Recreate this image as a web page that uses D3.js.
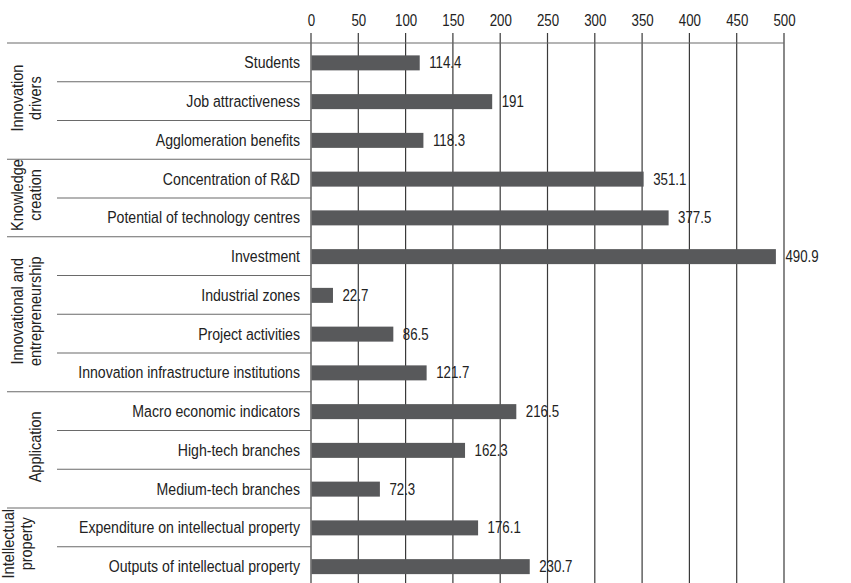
<!DOCTYPE html>
<html>
<head>
<meta charset="utf-8">
<script src="https://cdn.jsdelivr.net/npm/d3@7"></script>
<style>
  html, body { margin: 0; padding: 0; background: #fff; }
  svg { display: block; }
  text { font-family: "Liberation Sans Narrow", "Arial Narrow", "Liberation Sans", Arial, sans-serif; fill: #222; }
</style>
</head>
<body>
<svg id="chart" width="851" height="583"></svg>
<script>
// Indicator names, top to bottom
const categories = [
  "Students", "Job attractiveness", "Agglomeration benefits",
  "Concentration of R&D", "Potential of technology centres",
  "Investment", "Industrial zones", "Project activities", "Innovation infrastructure institutions",
  "Macro economic indicators", "High-tech branches", "Medium-tech branches",
  "Expenditure on intellectual property", "Outputs of intellectual property"
];
const values = [114.4, 191, 118.3, 351.1, 377.5, 490.9, 22.7, 86.5, 121.7, 216.5, 162.3, 72.3, 176.1, 230.7];
// Pillar groups: label lines and number of indicators in each
const groupLabels = [
  ["Innovation", "drivers"],
  ["Knowledge", "creation"],
  ["Innovational and", "entrepreneurship"],
  ["", "Application"],
  ["Intellectual", "property"]
];
const groupSizes = [3, 2, 4, 3, 2];
const tickValues = [0, 50, 100, 150, 200, 250, 300, 350, 400, 450, 500];

// condensed look for the sans text
const SQ = 0.83;

const svg = d3.select("#chart");
const x0 = 311, x1 = 784, yTop = 43, rowH = 38.75;

const x = d3.scaleLinear().domain([0, 500]).range([x0, x1]);
const y = d3.scaleBand().domain(categories).range([yTop, yTop + rowH * categories.length]).paddingInner(0).paddingOuter(0);

// vertical grid lines at each tick
svg.append("g").selectAll("line").data(tickValues).join("line")
  .attr("x1", d => x(d)).attr("x2", d => x(d))
  .attr("y1", 33).attr("y2", 583)
  .attr("stroke", "#3a3a3a").attr("stroke-width", 1.2);

// top axis labels
const axis = d3.axisTop(x).tickValues(tickValues).tickSize(0).tickPadding(0);
const ax = svg.append("g").attr("transform", "translate(0,26)").call(axis);
ax.select(".domain").remove();
ax.selectAll("text")
  .attr("font-size", 16).attr("font-family", null).attr("fill", "#222").attr("dy", 0)
  .attr("transform", `scale(${SQ},1)`);

// top horizontal rule
svg.append("line").attr("x1", 7).attr("x2", x1).attr("y1", yTop).attr("y2", yTop)
  .attr("stroke", "#6a6a6a").attr("stroke-width", 1.2);

// row separators: full width between groups, shorter inside groups
const groupEnds = [];
let acc = 0;
groupSizes.forEach(n => { acc += n; groupEnds.push(acc); });
const seps = d3.range(1, categories.length).map(i => ({ i, isGroup: groupEnds.includes(i) }));
svg.append("g").selectAll("line").data(seps).join("line")
  .attr("x1", d => d.isGroup ? 7 : 57).attr("x2", x0)
  .attr("y1", d => y(categories[d.i])).attr("y2", d => y(categories[d.i]))
  .attr("stroke", "#6a6a6a").attr("stroke-width", 1.2);

// bars
const barH = 15;
svg.append("g").selectAll("rect").data(categories).join("rect")
  .attr("x", x(0) + 0.5)
  .attr("y", d => y(d) + y.bandwidth() / 2 - barH / 2 + 0.5)
  .attr("width", (d, i) => x(values[i]) - x(0))
  .attr("height", barH)
  .attr("fill", "#58595b");

// value labels
svg.append("g").selectAll("text").data(categories).join("text")
  .attr("transform", (d, i) => `translate(${x(values[i]) + 10},${y(d) + y.bandwidth() / 2 + 6}) scale(${SQ},1)`)
  .attr("font-size", 16)
  .text((d, i) => String(values[i]));

// indicator names
svg.append("g").selectAll("text").data(categories).join("text")
  .attr("transform", d => `translate(300,${y(d) + y.bandwidth() / 2 + 6}) scale(${SQ},1)`)
  .attr("text-anchor", "end")
  .attr("font-size", 17)
  .text(d => d);

// pillar labels, rotated
let start = 0;
groupSizes.forEach((n, g) => {
  const top = yTop + start * rowH, bottom = yTop + (start + n) * rowH;
  const cy = (top + bottom) / 2 - 3;
  const cx = g === groupSizes.length - 1 ? 17 : 26;
  const t = svg.append("text")
    .attr("transform", `translate(${cx},${cy}) rotate(-90) scale(0.88,1)`)
    .attr("text-anchor", "middle")
    .attr("font-size", 16.5);
  groupLabels[g].forEach((line, k) => {
    t.append("tspan").attr("x", 0).attr("y", k === 0 ? -3 : 14.5).text(line);
  });
  start += n;
});
</script>
</body>
</html>
